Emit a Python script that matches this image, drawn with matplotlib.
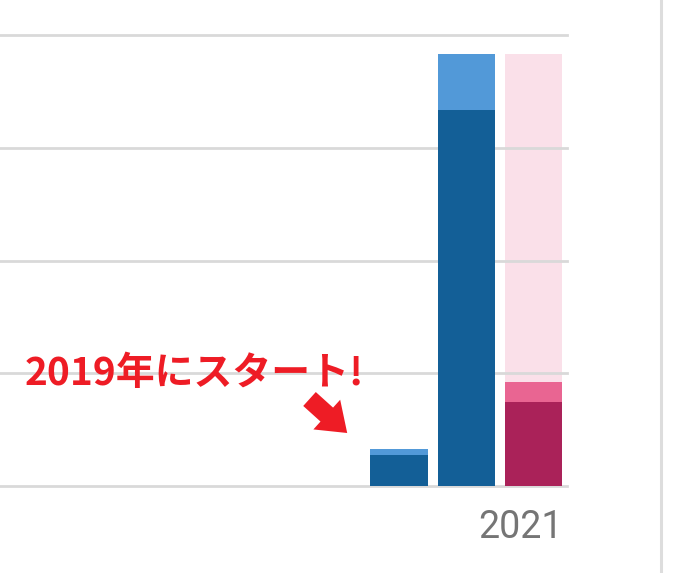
import matplotlib
matplotlib.use("Agg")
import matplotlib.pyplot as plt
from matplotlib.lines import Line2D

# Data
positions = [0, 1, 2]
dark_vals = [27.3, 334.0, 74.3]
top_vals = [32.9, 383.4, 92.1]
pink_total = 383.4
year_label = "2021"
grid_ticks = [0, 100, 200, 300, 400]
annotation = "2019年にスタート!"

W, H = 677, 573
fig = plt.figure(figsize=(W / 100, H / 100), dpi=100)
base_px = 485.7
ax = fig.add_axes([0, (H - base_px) / H, 567 / W, base_px / H])
ax.set_ylim(0, base_px / 1.126)
ax.set_xlim(-5.929, 2.496)
bw = 0.853

blue_dark = "#135f97"
blue_light = "#5299d8"
pink_dark = "#aa2259"
pink_mid = "#e96592"

# blue bars
ax.bar(positions[:2], top_vals[:2], width=bw, color=blue_light, zorder=3)
ax.bar(positions[:2], dark_vals[:2], width=bw, color=blue_dark, zorder=3)
# pink bar
ax.bar(positions[2], pink_total, width=bw, color=pink_mid, alpha=0.2, zorder=1)
ax.bar(positions[2], top_vals[2], width=bw, color=pink_mid, zorder=3)
ax.bar(positions[2], dark_vals[2], width=bw, color=pink_dark, zorder=3)

for t in grid_ticks:
    ax.axhline(t, color="#d9d9d9", lw=2.0, zorder=2, clip_on=False)

for s in ax.spines.values():
    s.set_visible(False)
ax.set_xticks([])
ax.set_yticks([])

ax.text(positions[2] + bw / 2, -42 / 1.126, year_label, ha="right", va="center",
        fontsize=27, color="#757575", family=["Roboto", "DejaVu Sans"])

ax.text(-5.56, 100, annotation, ha="left", va="center", fontsize=28,
        fontweight="bold", color="#ee1c25",
        family=["Noto Sans CJK JP", "DejaVu Sans"])

ax.annotate("", xy=(-0.77, 46.8), xytext=(-1.33, 77),
            arrowprops=dict(arrowstyle="simple,head_length=1.1,head_width=1.6,tail_width=0.75",
                            mutation_scale=18, color="#ee1c25", lw=0,
                            shrinkA=0, shrinkB=0))

fig.add_artist(Line2D([661 / W, 661 / W], [0, 1], color="#dddddd", lw=2.2,
                      transform=fig.transFigure))

fig.savefig("out.png", dpi=100)
